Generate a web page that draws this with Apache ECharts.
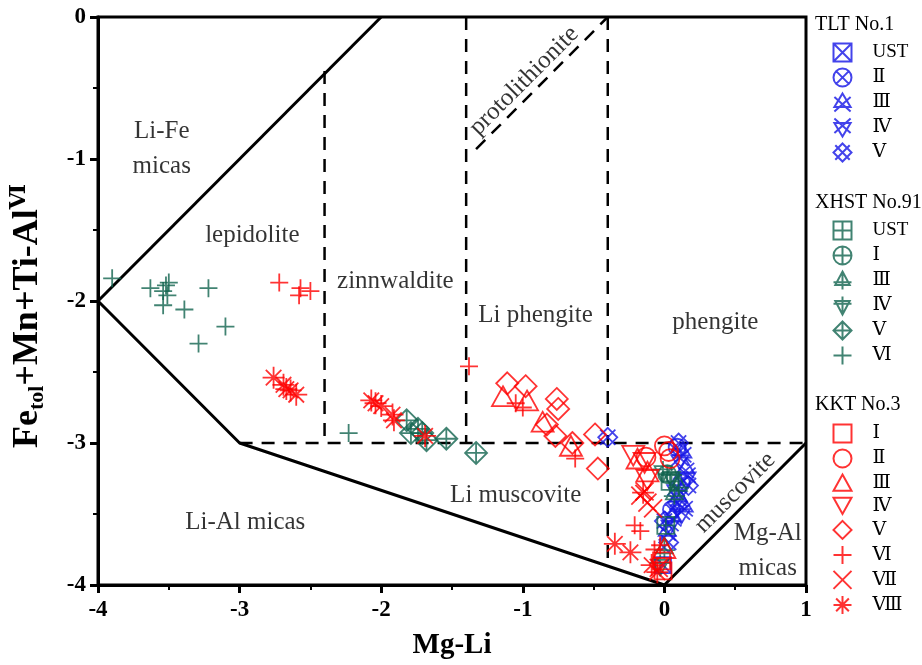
<!DOCTYPE html>
<html>
<head>
<meta charset="utf-8">
<script src="https://cdn.jsdelivr.net/npm/echarts@6/dist/echarts.min.js"></script>
<style>
  html, body { margin: 0; padding: 0; background: #fff; }
  #main { width: 922px; height: 665px; }
</style>
</head>
<body>
<div id="main"></div>
<script>
// field boundaries of the mica diagram (Mg-Li vs Fe+Mn+Ti-Al)
var solidLines = [
  [[-4, -2], [-2, 0]],
  [[-4, -2], [-3, -3], [0, -4], [1, -3]]
];
var dashedLines = [
  [[-3, -3], [1, -3]],
  [[-2.4, -0.38], [-2.4, -3]],
  [[-1.4, 0], [-1.4, -3]],
  [[-0.4, 0], [-0.4, -3.867]],
  [[-1.33, -0.93], [-0.4, 0]]
];

var fieldNames = ['Li-Fe\nmicas', 'lepidolite', 'zinnwaldite', 'Li phengite', 'phengite',
  'protolithionite', 'Li muscovite', 'Li-Al micas', 'muscovite', 'Mg-Al\nmicas'];
var fieldPos = [[-3.55, -0.93], [-2.91, -1.54], [-1.9, -1.86], [-0.91, -2.1], [0.36, -2.15],
  [-0.99, -0.45], [-1.05, -3.37], [-2.96, -3.56], [0.5, -3.35], [0.73, -3.76]];
var fieldRotate = [0, 0, 0, 0, 0, 45, 0, 0, 45, 0];

// TLT No.1
var tltUST = [[-0.01, -3.86]];
var tltII = [[0.09, -3.03], [0.12, -3.28], [0.05, -3.47]];
var tltIII = [[0.13, -3.07], [0.15, -3.18], [0.1, -3.38], [0.06, -3.52], [0.14, -3.45], [0.02, -3.62]];
var tltIV = [[0.11, -3.12], [0.16, -3.24], [0.08, -3.33], [0.12, -3.5], [0.04, -3.58]];
var tltV = [[-0.4, -2.96], [0.1, -3.0], [0.17, -3.3], [0.09, -3.42], [0.0, -3.55], [0.03, -3.7]];

// XHST No.91
var xhUST = [[0.01, -3.58], [0.04, -3.27]];
var xhI = [[0.02, -3.22]];
var xhIII = [[0.1, -3.3], [0.07, -3.36], [0.0, -3.74]];
var xhIV = [[-0.01, -3.2], [0.05, -3.24], [-0.03, -3.86]];
var xhV = [[-1.82, -2.84], [-1.79, -2.93], [-1.74, -2.9], [-1.71, -2.93], [-1.68, -2.98], [-1.54, -2.97], [-1.33, -3.07]];
var xhVI = [[-3.9, -1.84], [-3.63, -1.91], [-3.52, -1.89], [-3.5, -1.87], [-3.54, -1.93], [-3.51, -1.96],
  [-3.54, -2.03], [-3.39, -2.06], [-3.22, -1.91], [-3.1, -2.18], [-3.29, -2.3], [-2.23, -2.93]];

// KKT No.3
var kkI = [[-0.02, -3.83], [-0.01, -3.9]];
var kkII = [[0.0, -3.02], [0.03, -3.06], [0.04, -3.11], [-0.13, -3.1]];
var kkIII = [[-1.14, -2.67], [-0.97, -2.7], [-0.86, -2.85], [-0.66, -3.02], [-0.19, -3.11], [-0.12, -3.2], [0.0, -3.74]];
var kkIV = [[-0.22, -3.09], [-0.14, -3.14], [-0.12, -3.26]];
var kkV = [[-1.11, -2.58], [-0.98, -2.6], [-0.76, -2.69], [-0.75, -2.76], [-0.83, -2.87], [-0.77, -2.95],
  [-0.65, -3.0], [-0.49, -2.94], [-0.47, -3.18]];
var kkVI = [[-2.72, -1.87], [-2.57, -1.91], [-2.5, -1.93], [-2.58, -1.96], [-1.38, -2.46], [-1.05, -2.72],
  [-1.0, -2.75], [-0.63, -3.11], [-0.21, -3.58], [-0.17, -3.62], [-0.07, -3.75], [-0.03, -3.72]];
var kkVII = [[-0.14, -3.34], [-0.17, -3.37], [-0.12, -3.42], [-0.08, -3.46], [-0.04, -3.88]];
var kkVIII = [[-2.76, -2.54], [-2.69, -2.59], [-2.64, -2.63], [-2.6, -2.66], [-2.67, -2.62], [-2.04, -2.72],
  [-2.0, -2.74], [-2.07, -2.7], [-1.92, -2.8], [-1.91, -2.84], [-1.69, -2.95], [-0.35, -3.71],
  [-0.24, -3.77], [-0.15, -3.35], [-0.09, -3.86], [-0.05, -3.91]];

var BLUE = '#1414e6', GREEN = '#12644f', RED = '#ff0000';
var SERIF = '"Liberation Serif", "Times New Roman", "DejaVu Serif", serif';

// marker shapes
var SQ = 'M0 0L20 0L20 20L0 20Z';
var CI = 'M0 10A10 10 0 1 1 20 10A10 10 0 1 1 0 10Z';
var DI = 'M10 0L20 10L10 20L0 10Z';
var P = {
  sq: SQ,
  sqX: SQ + 'M0 0L20 20M20 0L0 20',
  sqP: SQ + 'M10 0L10 20M0 10L20 10',
  ci: CI,
  ciX: CI + 'M2.93 2.93L17.07 17.07M17.07 2.93L2.93 17.07',
  ciP: CI + 'M10 0L10 20M0 10L20 10',
  tri: 'M10 0L20 18L0 18Z',
  triX: 'M10 0L19 15L1 15ZM1 4L19 20M19 4L1 20',
  triP: 'M10 0L18 15L2 15ZM10 0L10 20M0 12L20 12',
  triD: 'M0 0L20 0L10 18Z',
  triDX: 'M1 5L19 5L10 20ZM1 0L19 16M19 0L1 16',
  triDP: 'M2 5L18 5L10 20ZM10 0L10 20M0 8L20 8',
  di: DI,
  diX: DI + 'M2 2L18 18M18 2L2 18',
  diP: DI + 'M10 0L10 20M0 10L20 10',
  plus: 'M10 0L10 20M0 10L20 10',
  cross: 'M0 0L20 20M20 0L0 20',
  star: 'M10 0L10 20M0 10L20 10M2.93 2.93L17.07 17.07M17.07 2.93L2.93 17.07'
};

function pts(name, data, shape, color, size) {
  return {
    type: 'scatter', name: name, data: data,
    symbol: 'path://' + P[shape], symbolSize: size, symbolKeepAspect: true,
    itemStyle: { color: 'none', borderColor: color, borderWidth: 1.8 },
    emphasis: { disabled: true }, silent: true, z: 5
  };
}

var series = [];
solidLines.forEach(function (d) {
  series.push({ type: 'line', data: d, symbol: 'none', silent: true, z: 3,
    lineStyle: { color: '#000', width: 3 } });
});
dashedLines.forEach(function (d) {
  series.push({ type: 'line', data: d, symbol: 'none', silent: true, z: 3,
    lineStyle: { color: '#000', width: 2.5, type: [13, 9] } });
});
series.push({
  type: 'scatter', name: 'fields', silent: true, z: 2,
  symbolSize: 1, itemStyle: { color: 'transparent' },
  data: fieldNames.map(function (n, i) {
    return { name: n, value: fieldPos[i], label: { rotate: fieldRotate[i] } };
  }),
  label: { show: true, position: 'inside', formatter: '{b}', color: '#000',
    fontFamily: SERIF, fontSize: 25, lineHeight: 35 }
});

series.push(
  pts('TLT UST', tltUST, 'sqX', BLUE, 16),
  pts('TLT Ⅱ', tltII, 'ciX', BLUE, 17),
  pts('TLT Ⅲ', tltIII, 'triX', BLUE, 19),
  pts('TLT Ⅳ', tltIV, 'triDX', BLUE, 19),
  pts('TLT Ⅴ', tltV, 'diX', BLUE, 19),
  pts('XHST UST', xhUST, 'sqP', GREEN, 17),
  pts('XHST Ⅰ', xhI, 'ciP', GREEN, 18),
  pts('XHST Ⅲ', xhIII, 'triP', GREEN, 21),
  pts('XHST Ⅳ', xhIV, 'triDP', GREEN, 21),
  pts('XHST Ⅴ', xhV, 'diP', GREEN, 22),
  pts('XHST Ⅵ', xhVI, 'plus', GREEN, 18),
  pts('KKT Ⅰ', kkI, 'sq', RED, 17),
  pts('KKT Ⅱ', kkII, 'ci', RED, 19),
  pts('KKT Ⅲ', kkIII, 'tri', RED, 22),
  pts('KKT Ⅳ', kkIV, 'triD', RED, 22),
  pts('KKT Ⅴ', kkV, 'di', RED, 22),
  pts('KKT Ⅵ', kkVI, 'plus', RED, 18),
  pts('KKT Ⅶ', kkVII, 'cross', RED, 18),
  pts('KKT Ⅷ', kkVIII, 'star', RED, 22)
);

function legendFor(prefix, names, top) {
  return {
    orient: 'vertical', left: 826, top: top, itemWidth: 18, itemHeight: 18, itemGap: 2,
    selectedMode: false,
    data: names.map(function (n) { return prefix + ' ' + n; }),
    formatter: function (n) { return n.split(' ')[1]; },
    textStyle: { fontFamily: SERIF, fontSize: 19, color: '#000', lineHeight: 18, padding: [0, 0, 0, 16] }
  };
}

var chart = echarts.init(document.getElementById('main'));
chart.setOption({
  animation: false,
  backgroundColor: '#fff',
  grid: { left: 97, right: 116, top: 17, bottom: 75, show: true, borderColor: '#000', borderWidth: 3 },
  xAxis: {
    type: 'value', min: -4, max: 1, interval: 1,
    name: 'Mg-Li', nameLocation: 'middle', nameGap: 46,
    nameTextStyle: { fontFamily: SERIF, fontWeight: 'bold', fontSize: 29, color: '#000' },
    axisLine: { onZero: false, lineStyle: { color: '#000', width: 3 } },
    axisTick: { inside: false, length: 8, lineStyle: { color: '#000', width: 3 } },
    minorTick: { show: true, splitNumber: 2, length: 5, lineStyle: { color: '#000', width: 2 } },
    axisLabel: { fontFamily: SERIF, fontWeight: 'bold', fontSize: 23, color: '#000', margin: 14 },
    splitLine: { show: false }
  },
  yAxis: {
    type: 'value', min: -4, max: 0, interval: 1,
    name: '{a|Fe}{s|tol}{a|+Mn+Ti-Al}{p|Ⅵ}', nameLocation: 'middle', nameGap: 50, nameRotate: 90,
    nameTextStyle: {
      color: '#000',
      padding: [0, 30, 0, 0],
      rich: {
        a: { fontFamily: SERIF, fontWeight: 'bold', fontSize: 36, lineHeight: 40, color: '#000' },
        s: { fontFamily: SERIF, fontWeight: 'bold', fontSize: 22, lineHeight: 22, verticalAlign: 'bottom', color: '#000' },
        p: { fontFamily: SERIF, fontWeight: 'bold', fontSize: 22, lineHeight: 22, verticalAlign: 'top', color: '#000' }
      }
    },
    axisLine: { onZero: false, lineStyle: { color: '#000', width: 3 } },
    axisTick: { inside: false, length: 8, lineStyle: { color: '#000', width: 3 } },
    minorTick: { show: true, splitNumber: 2, length: 5, lineStyle: { color: '#000', width: 2 } },
    axisLabel: { fontFamily: SERIF, fontWeight: 'bold', fontSize: 23, color: '#000', margin: 12 },
    splitLine: { show: false }
  },
  legend: [
    legendFor('TLT', ['UST', 'Ⅱ', 'Ⅲ', 'Ⅳ', 'Ⅴ'], 36),
    legendFor('XHST', ['UST', 'Ⅰ', 'Ⅲ', 'Ⅳ', 'Ⅴ', 'Ⅵ'], 214),
    legendFor('KKT', ['Ⅰ', 'Ⅱ', 'Ⅲ', 'Ⅳ', 'Ⅴ', 'Ⅵ', 'Ⅶ', 'Ⅷ'], 417)
  ],
  graphic: [
    { type: 'text', left: 815, top: 15, style: { text: 'TLT No.1', font: '20px ' + SERIF, fill: '#000' } },
    { type: 'text', left: 815, top: 193, style: { text: 'XHST No.91', font: '20px ' + SERIF, fill: '#000' } },
    { type: 'text', left: 815, top: 395, style: { text: 'KKT No.3', font: '20px ' + SERIF, fill: '#000' } }
  ],
  series: series
});
</script>
</body>
</html>
